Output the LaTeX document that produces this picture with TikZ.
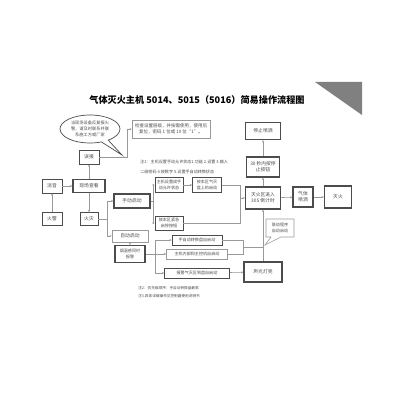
\documentclass[tikz,border=0pt]{standalone}
\usepackage{fontspec}
\setmainfont{Noto Sans CJK SC}
\usetikzlibrary{positioning}
\usetikzlibrary{shapes.callouts}
\usetikzlibrary{arrows.meta}
\definecolor{lgray}{rgb}{0.6, 0.6, 0.6}
\definecolor{dgray}{rgb}{0.3, 0.3, 0.3}
\definecolor{tgray}{rgb}{0.3, 0.3, 0.3}
\definecolor{tri}{rgb}{0.5, 0.5, 0.5}
\tikzset{box/.style = {draw = dgray, line width = 0.5pt, fill = white, inner sep = 0.5pt, align = center, text = tgray, font = \fontsize{3.4}{4.4}\selectfont}}
\tikzset{bbox/.style = {box, line width = 0.9pt}}
\tikzset{sbox/.style = {box, draw = lgray, line width = 0.4pt}}
\tikzset{small/.style = {font = \fontsize{2.9}{4}\selectfont}}
\tikzset{wh/.style 2 args = {minimum width = #1*0.025cm, minimum height = #2*0.025cm}}
\tikzset{conn/.style = {lgray, line width = 0.4pt}}
\tikzset{arr/.style = {conn, -{Stealth[length = 1.6pt, width = 1.4pt]}}}
\tikzset{note/.style = {anchor = west, inner sep = 0, text = tgray, font = \fontsize{2.9}{3.5}\selectfont}}

\begin{document}
\begin{tikzpicture}[x = 0.025cm, y = -0.025cm]
      \useasboundingbox [fill = white] (0, 0) rectangle (400, 400);
      \fill [tri] (315, 82) -- (362, 82) -- (362, 115) -- cycle;
      \node [inner sep = 0, text = black, font = \fontsize{6.5}{7}\selectfont\bfseries] (title) at (197, 100) {气体灭火主机 5014、5015（5016）简易操作流程图};

      % left part
      \coordinate (tipa) at (122, 155);
      \node [box, ellipse callout, wh = {60}{28}, inner sep = 0, callout absolute pointer = {(tipa)}, font = \fontsize{3}{4}\selectfont] (tishi) at (90, 129) {当现场设备反复报火\\警，请及时联系并联\\系施工方或厂家};
      \node [sbox, wh = {78}{18}, inner sep = 0, font = \fontsize{3.2}{4.4}\selectfont] (beizhu) at (171, 129) {检查设置层级，并按需使用，使用后\\复位，密码 1 位或 10 位“1”。};
      \node [box, wh = {20}{14}] (wubao) at (89, 157) {误报};
      \node [box, wh = {20}{14}] (xiaoyin) at (52, 186) {消音};
      \node [bbox, wh = {32}{13}] (xianchang) at (89, 186) {现场查看};
      \node [box, wh = {20}{13}] (huojing) at (52, 219) {火警};
      \node [box, wh = {18}{13}] (huozai) at (89, 219) {火灾};
      \node [bbox, wh = {36}{14}] (shoudong) at (132, 201) {手动启动};
      \node [sbox, wh = {36}{12}] (zidong) at (130, 236) {自动启动};
      \node [bbox, small, wh = {30}{17}] (yanwen) at (130, 254) {烟温感同时\\报警};

      % manual start
      \node [box, small, wh = {28}{15}] (zhuji) at (169, 185) {主机设置成手\\动允许状态};
      \node [box, small, wh = {29}{15}] (qimie) at (207, 185) {按本区气灭\\盘上的启动};
      \node [box, small, wh = {28}{14}] (jinji) at (169, 223) {按本区紧急\\启停按钮};
      \node [note] (zhu1a) at (140, 162) {注1：主机设置手动允许状态1.功能 2.设置 3.输入};
      \node [note] (zhu1b) at (140, 172) {二级密码 4.按数字 5.设置手自动转换状态};

      % right part
      \node [bbox, wh = {35}{22}] (daojishi) at (263, 198) {灭火区进入\\30S 倒计时};
      \node [bbox, wh = {33}{20}] (anting) at (263, 167) {30 秒内按停\\止按钮};
      \node [bbox, wh = {35}{17}] (tingzhi) at (263, 131) {停止喷洒};
      \node [bbox, wh = {20}{20}] (penshe) at (303, 197) {气体\\喷洒};
      \node [bbox, wh = {27}{22}] (miehuo) at (338, 197) {灭火};
      \coordinate (tipb) at (265, 245);
      \node [sbox, rectangle callout, small, wh = {28}{18}, callout absolute pointer = {(tipb)}] (liandong) at (280, 228) {联动程序\\自动启动};

      % auto start
      \node [box, small, wh = {50}{10}] (zhuanhuan) at (197, 240) {手自动转换盘自启动};
      \node [sbox, small, wh = {61}{10}] (neibu) at (197, 254) {主机内部和主控机自启动};
      \node [box, small, wh = {65}{10}] (baojing) at (197, 273) {报警气灭区到盘自启动};
      \node [bbox, wh = {38}{20}] (shengguang) at (263, 272) {声光灯亮};
      \node [note, font = \fontsize{2.6}{3.2}\selectfont] (zhu2) at (138, 288) {注2：优先级顺序：手自动转换盘最高};
      \node [note, font = \fontsize{2.6}{3.2}\selectfont] (zhu3) at (138, 296) {注3.具体详细操作见控制器使用说明书};

      % connectors
      \draw [arr] (huojing) -- (xiaoyin);
      \draw [arr] (xiaoyin) -- (xianchang);
      \draw [arr] (xianchang) -- (wubao);
      \draw [arr] (xianchang) -- (huozai);
      \coordinate (ca) at (127, 157);
      \draw [arr] (wubao) -- (ca) |- (beizhu);
      \coordinate (cb) at (107, 219);
      \draw [conn] (huozai) -- (cb);
      \draw [arr] (cb) |- (shoudong);
      \draw [arr] (cb) |- (zidong);
      \coordinate (cc) at (153, 201);
      \draw [conn] (shoudong) -- (cc);
      \draw [arr] (cc) |- (zhuji);
      \draw [arr] (cc) |- (jinji);
      \draw [arr] (zhuji) -- (qimie);
      \coordinate (cd) at (240, 198);
      \draw [arr] (qimie.east) -| (cd) -- (daojishi);
      \draw [conn] (jinji.east) -| (cd);
      \draw [arr] (daojishi) -- (anting);
      \draw [arr] (anting) -- (tingzhi);
      \draw [arr] (daojishi) -- (penshe);
      \draw [arr] (penshe) -- (miehuo);
      \draw [arr] (zidong) -- (yanwen);
      \coordinate (ce) at (155, 254);
      \draw [arr] (yanwen) -- (neibu);
      \draw [arr] (ce) |- (zhuanhuan);
      \draw [arr] (ce) |- (baojing);
      \coordinate (cf) at (243, 247);
      \coordinate (cg) at (263, 247);
      \draw [conn] (zhuanhuan.east) -| (cf);
      \draw [conn] (neibu.east) -| (cf);
      \draw [conn] (cf) -- (cg);
      \draw [arr] (baojing) -- (shengguang);
      \draw [arr] (shengguang) -- (daojishi);
    \end{tikzpicture}
\end{document}
